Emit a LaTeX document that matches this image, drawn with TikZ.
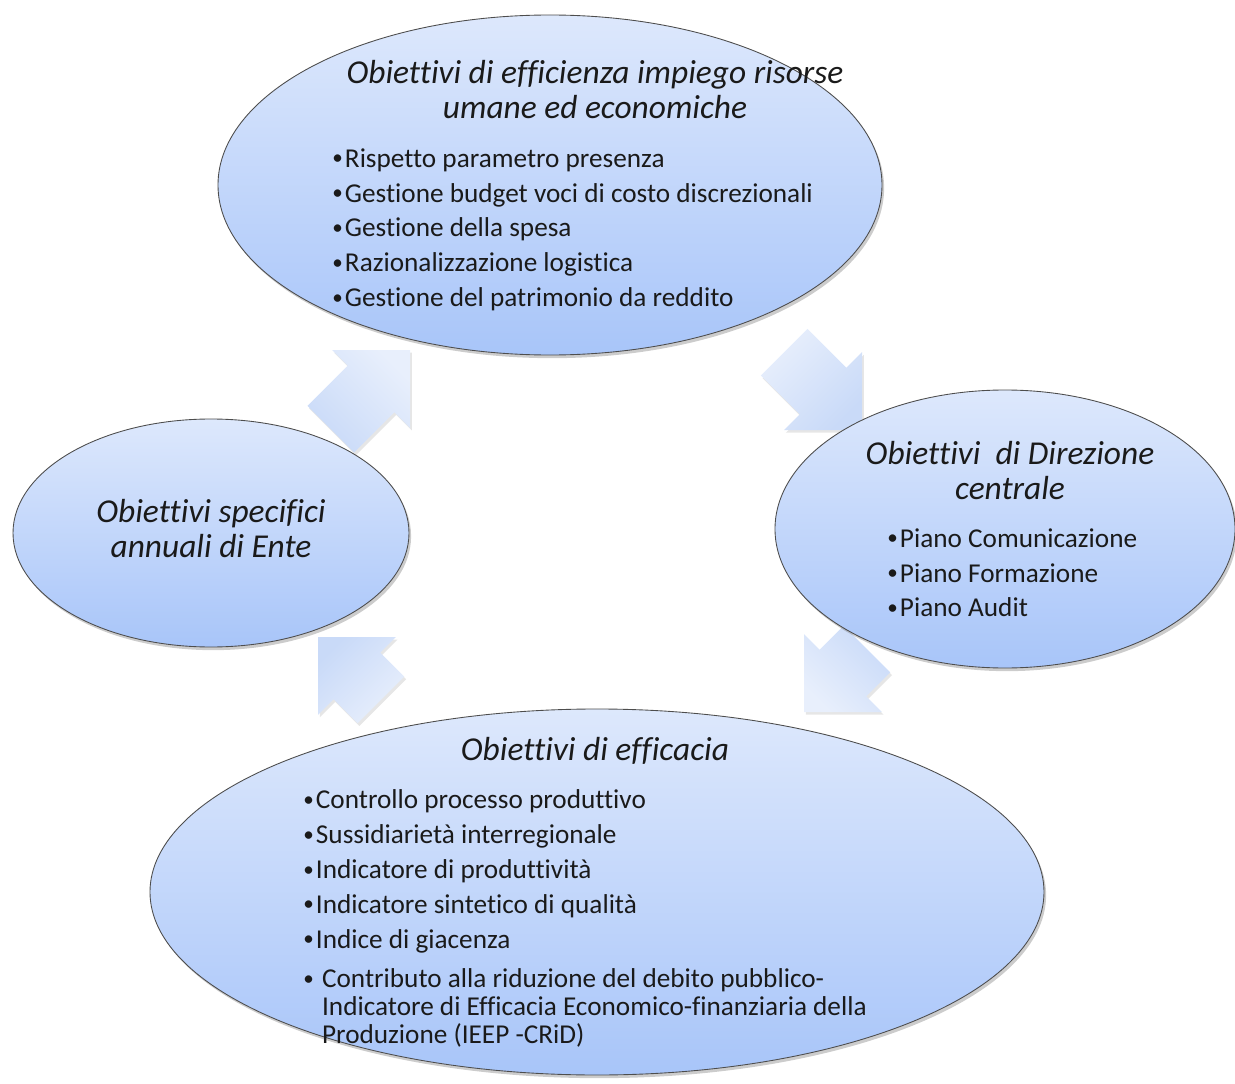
\documentclass[tikz,border=0pt]{standalone}
\usepackage{fontspec}
\setmainfont{Carlito}[Ligatures=NoCommon]
\usepackage{tikz}
\usetikzlibrary{
  shapes.geometric,
  shadows,
  positioning,
  calc
}
\definecolor{cyTop}{HTML}{DDE8FC}
\definecolor{cyBot}{HTML}{A8C5F9}
\definecolor{cyArrTop}{HTML}{E8EFFC}
\definecolor{cyArrBot}{HTML}{C9DAF8}
\definecolor{cyLine}{HTML}{4D4D4D}
\definecolor{cyText}{HTML}{1A1A1A}
\newcommand{\objbul}{\raisebox{1.2pt}{\fontsize{12}{12}\selectfont•}\kern1.2pt}
\tikzset{
  objell/.style={
    ellipse, draw=cyLine, line width=0.5pt, inner sep=0pt,
    top color=cyTop, bottom color=cyBot,
    drop shadow={shadow xshift=1.2pt, shadow yshift=-1.8pt, opacity=0.4}
  },
  objtitle/.style={font=\fontsize{19}{19.9}\selectfont\itshape, text=cyText, align=center, inner sep=0pt, anchor=north},
  objlist/.style={font=\fontsize{15.5}{15.9}\selectfont, text=cyText, align=left, inner sep=0pt, anchor=north west},
  pics/cyclearrow/.style 2 args={code={
    \shade[top color=cyArrTop, bottom color=cyArrBot, shading angle=-#1, rotate=#1,
      drop shadow={shadow xshift=1pt, shadow yshift=-1.5pt, opacity=0.2}]
      (0,0) -- (-55,55) -- (-55,33) -- (-55-#2,33) -- (-55-#2,-33)
      -- (-55,-33) -- (-55,-55) -- cycle;
  }}
}

\begin{document}
\begin{tikzpicture}[x=0.2mm, y=-0.2mm]
  \useasboundingbox (0,0) rectangle (1235,1084);

  % block arrows of the cycle
  \coordinate (t1) at (410,350);
  \coordinate (t2) at (862,430);
  \coordinate (t3) at (804,712);
  \coordinate (t4) at (318,637);
  \pic (a1) at (t1) {cyclearrow={45}{57}};
  \pic (a2) at (t2) {cyclearrow={-45}{55}};
  \pic (a3) at (t3) {cyclearrow={-135}{34}};
  \pic (a4) at (t4) {cyclearrow={135}{34}};

  % ellipses
  \node[objell, minimum width=132.8mm, minimum height=68mm] (eff) at (550,185) {};
  \node[objell, minimum width=79.2mm, minimum height=45.6mm] (ente) at (211,533) {};
  \node[objell, minimum width=92mm, minimum height=55.6mm] (dir) at (1005,529) {};
  \node[objell, minimum width=178.8mm, minimum height=73.2mm] (eca) at (597,892) {};

  % texts
  \node[objtitle] (efft) at (595,60) {Obiettivi di efficienza impiego risorse\\umane ed economiche};
  \node[objlist] (effl) at (332,148) {\objbul Rispetto parametro presenza\\[1.4mm]
    \objbul Gestione budget voci di costo discrezionali\\[1.4mm]
    \objbul Gestione della spesa\\[1.4mm]
    \objbul Razionalizzazione logistica\\[1.4mm]
    \objbul Gestione del patrimonio da reddito};
  \node[objtitle] (entet) at (211,499) {Obiettivi specifici\\annuali di Ente};
  \node[objtitle] (dirt) at (1010,441) {Obiettivi~ di Direzione\\centrale};
  \node[objlist] (dirl) at (887,528) {\objbul Piano Comunicazione\\[1.4mm]
    \objbul Piano Formazione\\[1.4mm]
    \objbul Piano Audit};
  \node[objtitle] (ecat) at (595,737) {Obiettivi di efficacia};
  \node[objlist] (ecal) at (303,789) {\objbul Controllo processo produttivo\\[1.4mm]
    \objbul Sussidiarietà interregionale\\[1.4mm]
    \objbul Indicatore di produttività\\[1.4mm]
    \objbul Indicatore sintetico di qualità\\[1.4mm]
    \objbul Indice di giacenza\\[2.4mm]
    \objbul\ Contributo alla riduzione del debito pubblico-\\
    \phantom{\objbul\ }Indicatore di Efficacia Economico-finanziaria della\\
    \phantom{\objbul\ }Produzione (IEEP -CRiD)};
\end{tikzpicture}
\end{document}
